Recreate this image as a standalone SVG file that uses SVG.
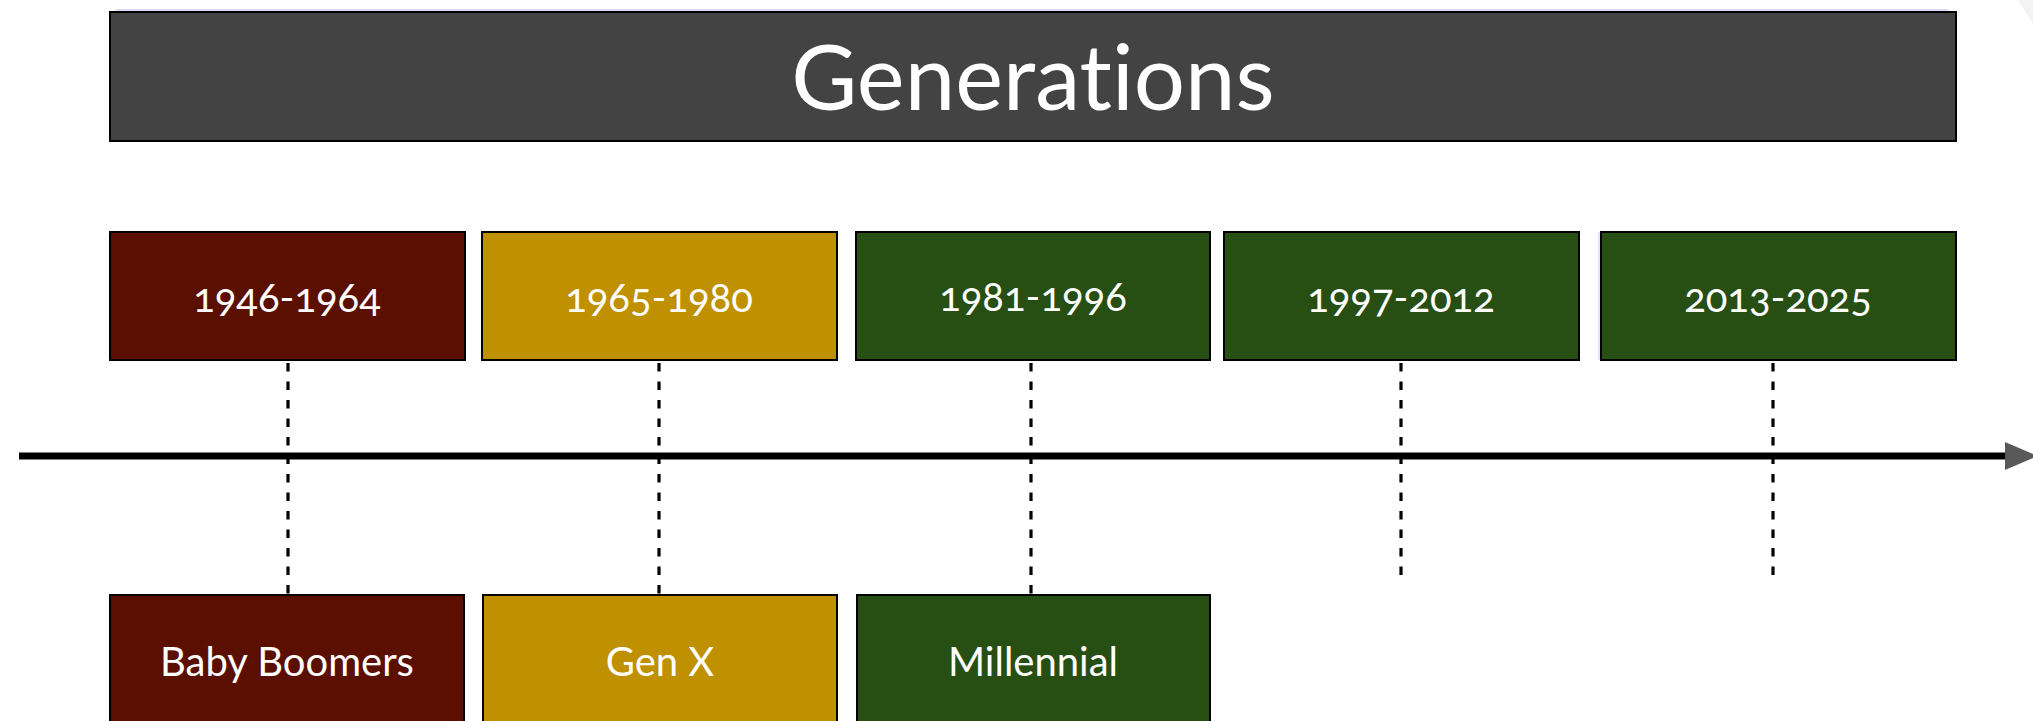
<svg xmlns="http://www.w3.org/2000/svg" width="2033" height="721" viewBox="0 0 2033 721">
  <style>
    .box { stroke: #000; stroke-width: 2; }
    .red { fill: #5b0f00; }
    .gold { fill: #bf9000; }
    .green { fill: #274e13; }
    .lbl { font-family: Lato, "Open Sans", "Liberation Sans", sans-serif; font-size: 40px; fill: #fff; text-anchor: middle; font-variant-ligatures: none; }
    .yr { font-variant-numeric: oldstyle-nums; font-feature-settings: "onum" 1; }
    .tick { stroke: #000; stroke-width: 3.2; stroke-dasharray: 8.5 10; fill: none; }
  </style>
  <rect width="2033" height="721" fill="#fff"/>
  <polygon points="2018,0 2033,0 2033,24" fill="#f3f3f3"/>

  <g id="title">
    <rect x="116" y="9" width="1832" height="3" fill="#dcdcf7"/>
    <rect class="box" x="110" y="12" width="1846" height="129" fill="#434343"/>
    <text x="1033" y="110" font-family="Lato, 'Open Sans', 'Liberation Sans', sans-serif" font-size="90.5" fill="#fff" text-anchor="middle" style="font-variant-ligatures: none; font-feature-settings: 'liga' 0, 'dlig' 0">Generations</text>
  </g>

  <g id="connectors">
    <line x1="19" y1="456" x2="2005" y2="456" stroke="#000" stroke-width="7"/>
    <polygon points="2005,442 2038,456 2005,470" fill="#595959"/>
    <line class="tick" x1="288" y1="363" x2="288" y2="595"/>
    <line class="tick" x1="659" y1="363" x2="659" y2="595"/>
    <line class="tick" x1="1031" y1="363" x2="1031" y2="595"/>
    <line class="tick" x1="1401" y1="363" x2="1401" y2="578"/>
    <line class="tick" x1="1773" y1="363" x2="1773" y2="578"/>
  </g>

  <g id="y1946">
    <rect class="box red" x="110" y="232" width="355" height="128"/>
    <text class="lbl yr" x="287" y="312">1946-1964</text>
  </g>
  <g id="y1965">
    <rect class="box gold" x="482" y="232" width="355" height="128"/>
    <text class="lbl yr" x="659" y="312">1965-1980</text>
  </g>
  <g id="y1981">
    <rect class="box green" x="856" y="232" width="354" height="128"/>
    <text class="lbl yr" x="1033" y="311">1981-1996</text>
  </g>
  <g id="y1997">
    <rect class="box green" x="1224" y="232" width="355" height="128"/>
    <text class="lbl yr" x="1401" y="312">1997-2012</text>
  </g>
  <g id="y2013">
    <line x1="1599" y1="232" x2="1599" y2="360" stroke="#e2e2f8" stroke-width="2"/>
    <rect class="box green" x="1601" y="232" width="355" height="128"/>
    <text class="lbl yr" x="1778" y="312">2013-2025</text>
  </g>

  <g id="boomers">
    <rect class="box red" x="110" y="595" width="354" height="140"/>
    <text class="lbl" x="287" y="676">Baby Boomers</text>
  </g>
  <g id="genx">
    <rect class="box gold" x="483" y="595" width="354" height="140"/>
    <text class="lbl" x="660" y="676">Gen X</text>
  </g>
  <g id="millennial">
    <rect class="box green" x="857" y="595" width="353" height="140"/>
    <text class="lbl" x="1033" y="676">Millennial</text>
  </g>
</svg>
